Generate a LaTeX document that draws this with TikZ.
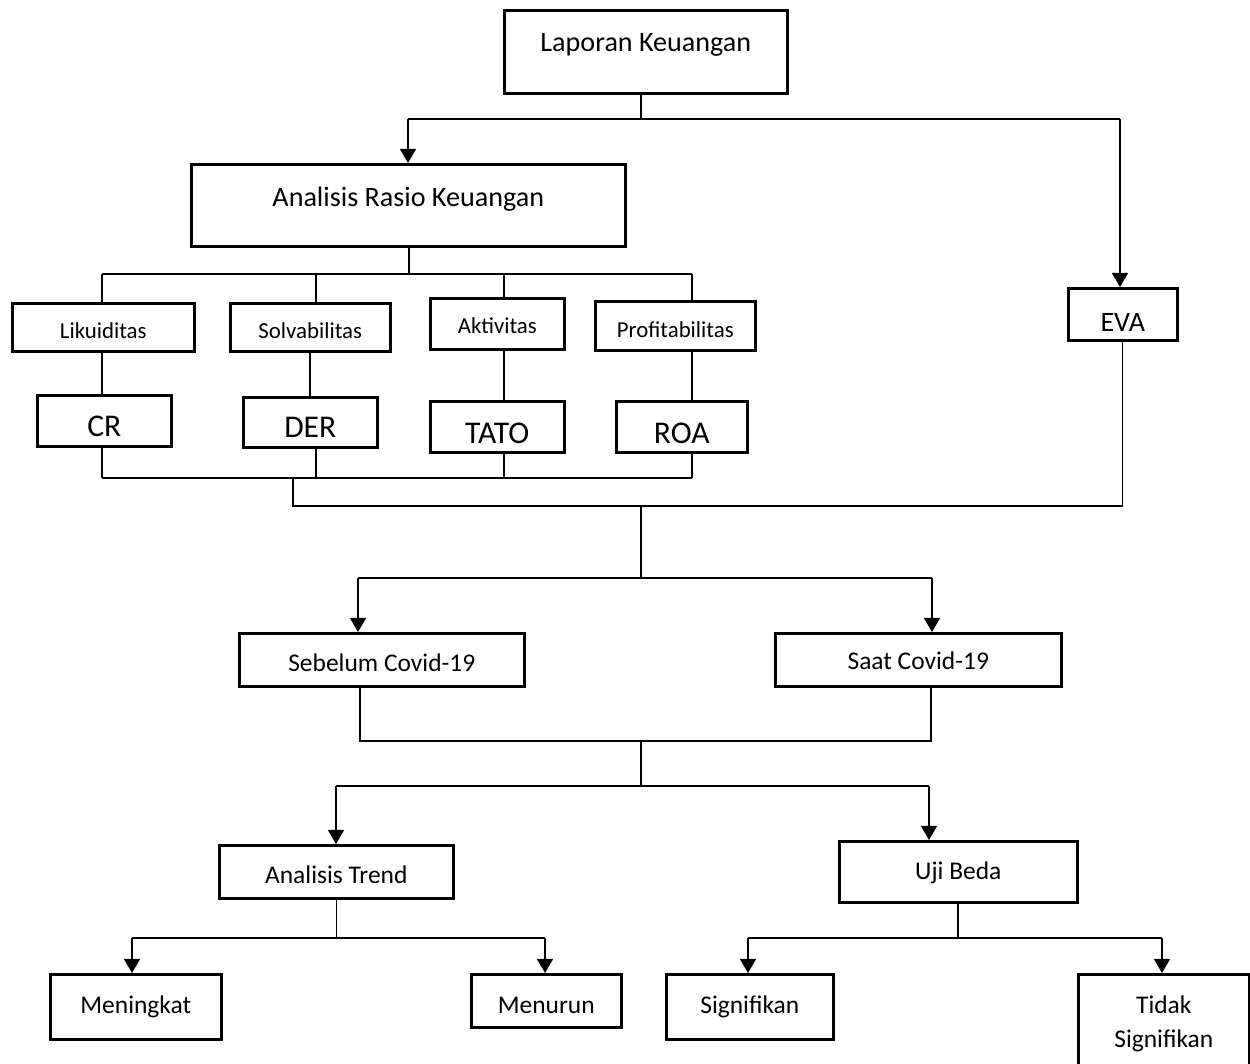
\documentclass[tikz,border=0pt]{standalone}
\usepackage{fontspec}
\setmainfont{Carlito}
\usetikzlibrary{arrows.meta}

\tikzset{
  kotak/.style={draw, line width=1.5pt, inner sep=0pt, anchor=north west, align=center},
  garis/.style={line width=0.6pt},
  panah/.style={line width=1.2pt, -{Triangle[width=9pt,length=8pt]}},
  besar/.style={font=\fontsize{16pt}{19pt}\selectfont},
  rasio/.style={font=\fontsize{18pt}{21pt}\selectfont},
  kecil/.style={font=\fontsize{13pt}{16pt}\selectfont},
  sedang/.style={font=\fontsize{14.5pt}{19.4pt}\selectfont}
}

\begin{document}
\begin{tikzpicture}[x=0.02cm, y=-0.02cm]
  \useasboundingbox (0,0) rectangle (1250,1063);

  \node[kotak, besar, minimum width=5.66cm, text height=0.82cm, text depth=0.84cm] (lap) at (503,9) {Laporan Keuangan};
  \node[kotak, besar, minimum width=8.68cm, text height=0.84cm, text depth=0.80cm] (ark) at (190,163) {Analisis Rasio Keuangan};
  \node[kotak, besar, minimum width=2.18cm, text height=0.86cm, text depth=0.18cm] (eva) at (1067,287) {EVA};

  \node[kotak, kecil, minimum width=3.64cm, text height=0.70cm, text depth=0.26cm] (lik) at (11,302)  {Likuiditas};
  \node[kotak, kecil, minimum width=3.20cm, text height=0.70cm, text depth=0.26cm] (sol) at (229,302) {Solvabilitas};
  \node[kotak, kecil, minimum width=2.68cm, text height=0.70cm, text depth=0.32cm] (akt) at (429,297) {Aktivitas};
  \node[kotak, kecil, minimum width=3.20cm, text height=0.72cm, text depth=0.26cm] (pro) at (594,300) {Profitabilitas};

  \node[kotak, rasio, minimum width=2.68cm, text height=0.82cm, text depth=0.20cm] (cr)   at (36,394)  {CR};
  \node[kotak, rasio, minimum width=2.68cm, text height=0.80cm, text depth=0.20cm] (der)  at (242,396) {DER};
  \node[kotak, rasio, minimum width=2.68cm, text height=0.84cm, text depth=0.18cm] (tato) at (429,400) {TATO};
  \node[kotak, rasio, minimum width=2.62cm, text height=0.84cm, text depth=0.18cm] (roa)  at (615,400) {ROA};

  \node[kotak, sedang, minimum width=5.70cm, text height=0.76cm, text depth=0.30cm] (seb)  at (238,632) {Sebelum Covid-19};
  \node[kotak, sedang, minimum width=5.72cm, text height=0.72cm, text depth=0.34cm] (saat) at (774,632) {Saat Covid-19};

  \node[kotak, sedang, minimum width=4.68cm, text height=0.76cm, text depth=0.30cm] (atr) at (218,844) {Analisis Trend};
  \node[kotak, sedang, minimum width=4.76cm, text height=0.76cm, text depth=0.46cm] (uji) at (838,840) {Uji Beda};

  \node[kotak, sedang, minimum width=3.42cm, text height=0.78cm, text depth=0.52cm] (men) at (49,973)   {Meningkat};
  \node[kotak, sedang, minimum width=3.00cm, text height=0.78cm, text depth=0.28cm] (mnr) at (470,973)  {Menurun};
  \node[kotak, sedang, minimum width=3.34cm, text height=0.78cm, text depth=0.52cm] (sig) at (665,973)  {Signifikan};
  \node[kotak, sedang, minimum width=3.42cm, text height=1.46cm, text depth=0.80cm] (tid) at (1077,973) {Tidak\\Signifikan};

  \draw[garis] (lap.south -| 641,0) -- (641,119);
  \draw[garis] (408,119) -- (1120,119);
  \draw[panah] (408,119) -- (ark.north -| 408,0);
  \draw[panah] (1120,119) -- (eva.north -| 1120,0);

  \draw[garis] (ark.south -| 409,0) -- (409,274);
  \draw[garis] (102,274) -- (692,274);
  \foreach \n/\x in {lik/102, sol/316, akt/504, pro/692}
    \draw[garis] (\x,274) -- (\n.north -| \x,0);
  \foreach \a/\b/\x in {lik/cr/102, sol/der/310, akt/tato/504, pro/roa/692}
    \draw[garis] (\a.south -| \x,0) -- (\b.north -| \x,0);
  \foreach \n/\x in {cr/102, der/316, tato/504, roa/692}
    \draw[garis] (\n.south -| \x,0) -- (\x,478);
  \draw[garis] (102,478) -- (692,478);
  \draw[garis] (293,478) |- (eva.south |- 0,506) -- (eva.south);

  \draw[garis] (641,506) -- (641,578);
  \draw[garis] (358,578) -- (932,578);
  \draw[panah] (358,578) -- (seb.north -| 358,0);
  \draw[panah] (932,578) -- (saat.north -| 932,0);

  \draw[garis] (seb.south -| 360,0) -- (360,741) -- (931,741) -- (saat.south -| 931,0);
  \draw[garis] (641,741) -- (641,786);
  \draw[garis] (336,786) -- (929,786);
  \draw[panah] (336,786) -- (atr.north -| 336,0);
  \draw[panah] (929,786) -- (uji.north -| 929,0);

  \draw[garis] (atr.south) -- (atr.south |- 0,938);
  \draw[garis] (132,938) -- (545,938);
  \draw[panah] (132,938) -- (men.north -| 132,0);
  \draw[panah] (545,938) -- (mnr.north -| 545,0);

  \draw[garis] (uji.south -| 958,0) -- (958,938);
  \draw[garis] (748,938) -- (1162,938);
  \draw[panah] (748,938) -- (sig.north -| 748,0);
  \draw[panah] (1162,938) -- (tid.north -| 1162,0);
\end{tikzpicture}
\end{document}
